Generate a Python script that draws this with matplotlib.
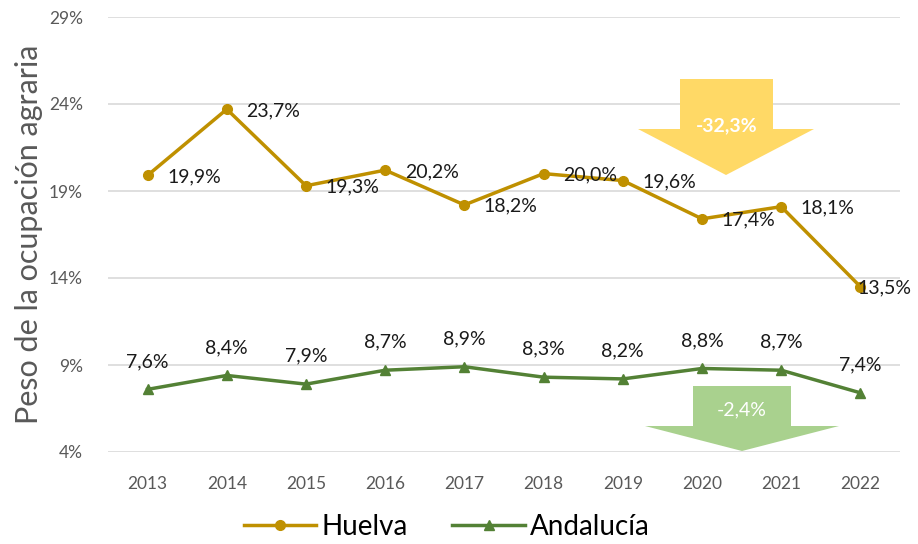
import numpy as np
import matplotlib
matplotlib.use("Agg")
import matplotlib.pyplot as plt
from matplotlib.patches import Polygon

years = ["2013", "2014", "2015", "2016", "2017", "2018", "2019", "2020", "2021", "2022"]
huelva = [19.9, 23.7, 19.3, 20.2, 18.2, 20.0, 19.6, 17.4, 18.1, 13.5]
andalucia = [7.6, 8.4, 7.9, 8.7, 8.9, 8.3, 8.2, 8.8, 8.7, 7.4]
yticks = [4, 9, 14, 19, 24, 29]
var_huelva = "-32,3%"
var_andalucia = "-2,4%"

plt.rcParams['font.family'] = ['Lato', 'DejaVu Sans']

c_hu = "#BF9000"
c_an = "#538135"

fig = plt.figure(figsize=(9.18, 5.44), dpi=100)
ax = fig.add_axes([108/918, 1-452/544, 792/918, 435/544])

x = np.arange(len(years))
ax.plot(x, huelva, color=c_hu, lw=2.5, marker="o", ms=7, label="Huelva")
ax.plot(x, andalucia, color=c_an, lw=2.5, marker="^", ms=7, label="Andalucía")

def pct(v):
    return ("%.1f%%" % v).replace(".", ",")

for i, v in enumerate(huelva):
    dx = 14 if i < len(huelva) - 1 else -2
    ax.annotate(pct(v), (i, v), xytext=(dx, -1), textcoords="offset points",
                ha="left", va="center", fontsize=14, color="#1a1a1a")
for i, v in enumerate(andalucia):
    ax.annotate(pct(v), (i, v), xytext=(0, 14), textcoords="offset points",
                ha="center", va="bottom", fontsize=14, color="#1a1a1a")

ax.set_xlim(-0.5, len(years) - 0.5)
ax.set_ylim(4, 29)
ax.set_yticks(yticks)
ax.set_yticklabels(["%d%%" % t for t in yticks])
ax.set_xticks(x)
ax.set_xticklabels(years)
ax.tick_params(length=0, labelsize=12.5, colors="#595959")
ax.tick_params(axis="x", pad=17)
ax.tick_params(axis="y", pad=18)
ax.grid(axis="y", color="#D9D9D9", lw=1.2)
ax.set_axisbelow(True)
for s in ax.spines.values():
    s.set_visible(False)
ax.set_ylabel("Peso de la ocupación agraria", fontsize=22, color="#595959", labelpad=4)

# flechas de variación (coordenadas en pixeles de figura)
def arrow(x0, x1, y_top, y_head, hx0, hx1, y_tip, color, txt, ty, bold):
    pts = [(x0, y_top), (x1, y_top), (x1, y_head), (hx1, y_head),
           ((hx0 + hx1) / 2, y_tip), (hx0, y_head), (x0, y_head)]
    pts = [(px / 918, 1 - py / 544) for px, py in pts]
    fig.patches.append(Polygon(pts, closed=True, transform=fig.transFigure,
                               facecolor=color, edgecolor="none", zorder=5))
    fig.text((x0 + x1) / 2 / 918, 1 - ty / 544, txt, ha="center", va="center",
             color="white", fontsize=14, fontweight="bold" if bold else "normal", zorder=6)

arrow(680, 773, 79, 129, 638, 814, 175, "#FFD966", var_huelva, 126, True)
arrow(693, 791, 386, 426, 645, 839, 451, "#A9D18E", var_andalucia, 410, False)

ax.legend(loc="center", bbox_to_anchor=(0.428, -0.172), ncol=2, frameon=False,
          fontsize=20, handlelength=2.6, columnspacing=1.6, handletextpad=0.2)

fig.savefig("out.png", dpi=100)
